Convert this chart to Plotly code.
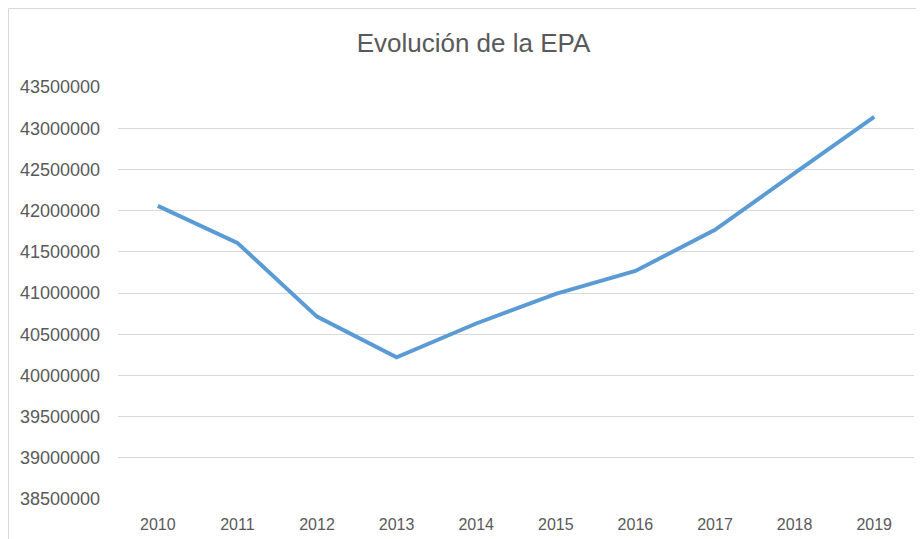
import plotly.graph_objects as go

years = ["2010", "2011", "2012", "2013", "2014", "2015", "2016", "2017", "2018", "2019"]
epa = [42058000, 41608000, 40713000, 40219000, 40630000, 40990000, 41268000, 41766000, 42455000, 43136000]
y_ticks = [38500000, 39000000, 39500000, 40000000, 40500000, 41000000, 41500000, 42000000, 42500000, 43000000, 43500000]

# page has an 8px body margin, so the figure is sized/offset accordingly
W, H = 916, 531
L, R, T, B = 110, 10, 79, 40
PW, PH = W - L - R, H - T - B

fig = go.Figure()
fig.add_trace(go.Scatter(
    x=years, y=epa, mode="lines",
    line=dict(color="#5b9bd5", width=4),
    showlegend=False, hoverinfo="x+y",
))

FONT = "Liberation Sans"
fig.update_layout(
    width=W, height=H,
    margin=dict(l=L, r=R, t=T, b=B, autoexpand=False),
    paper_bgcolor="white", plot_bgcolor="white",
    title=dict(
        text="Evolución de la EPA",
        font=dict(family=FONT, size=26, color="#595959"),
        xref="container", x=465.5 / W, xanchor="center",
        yref="container", y=(H - 35) / H, yanchor="middle",
    ),
    xaxis=dict(
        type="category", range=[-0.5, 9.5],
        showgrid=False, zeroline=False, showline=False, ticks="",
        tickfont=dict(family=FONT, size=16, color="#595959"),
        ticklabelstandoff=14,
    ),
    yaxis=dict(
        range=[38500000, 43500000],
        tickmode="array", tickvals=y_ticks, ticktext=[str(v) for v in y_ticks],
        showgrid=True, gridcolor="#d9d9d9", gridwidth=1,
        zeroline=False, showline=False, ticks="",
        tickfont=dict(family=FONT, size=18, color="#595959"),
        ticklabelstandoff=17,
    ),
    shapes=[dict(
        type="rect", xref="paper", yref="paper",
        x0=(0.5 - L) / PW, x1=(W + 20 - L) / PW,
        y0=-(B + 20) / PH, y1=(PH + T - 0.5) / PH,
        line=dict(color="#d9d9d9", width=1), fillcolor="rgba(0,0,0,0)",
        layer="below",
    )],
)

fig.write_html("out.html")
